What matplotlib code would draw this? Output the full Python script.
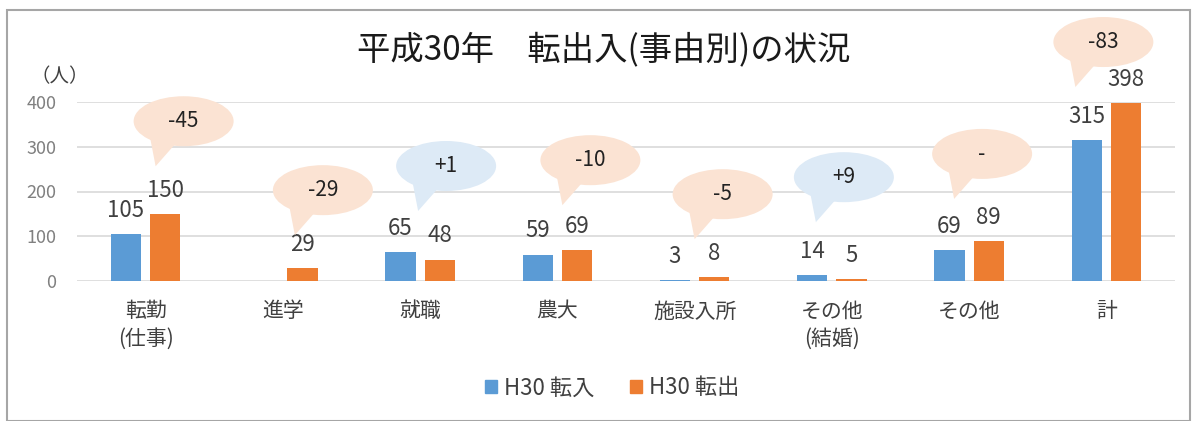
import matplotlib
matplotlib.use("Agg")
import matplotlib.pyplot as plt
from matplotlib.patches import Ellipse, Polygon, Patch, Rectangle
import numpy as np

plt.rcParams['font.family'] = ['Noto Sans CJK JP', 'DejaVu Sans']

# data
categories = ['転勤\n(仕事)', '進学', '就職', '農大', '施設入所', 'その他\n(結婚)', 'その他', '計']
tennyu = [105, None, 65, 59, 3, 14, 69, 315]   # H30 転入
tenshutsu = [150, 29, 48, 69, 8, 5, 89, 398]   # H30 転出
diff_labels = ['-45', '-29', '+1', '-10', '-5', '+9', '-', '-83']

# bubble layout: x offset from category centre (px), centre height (data units)
bubble_dx = [38, 40, 26, 33, 28, 12, 13, -3]
bubble_y = [357, 203, 257, 270, 194, 232, 284, 534]

blue = '#5B9BD5'
orange = '#ED7D31'
peach = '#FBE3D3'
light_blue = '#DDEAF6'

W, H = 1198, 421
fig = plt.figure(figsize=(W / 100, H / 100), dpi=100)
ax_l, ax_r, ax_b, ax_t = 77, 1175, 281, 102
ax = fig.add_axes([ax_l / W, (H - ax_b) / H, (ax_r - ax_l) / W, (ax_b - ax_t) / H])

x = np.arange(len(categories))
v_in = np.array([np.nan if v is None else v for v in tennyu], dtype=float)
v_out = np.array(tenshutsu, dtype=float)
bw = 0.22
off = 0.143
ax.bar(x - off, v_in, bw, color=blue, zorder=3)
ax.bar(x + off, v_out, bw, color=orange, zorder=3)

for xi, v in zip(x - off, v_in):
    if not np.isnan(v):
        ax.annotate(f'{int(v)}', (xi, v), xytext=(0, 17), textcoords='offset points',
                    ha='center', va='center', fontsize=16, color='#404040')
for xi, v in zip(x + off, v_out):
    ax.annotate(f'{int(v)}', (xi, v), xytext=(0, 17), textcoords='offset points',
                ha='center', va='center', fontsize=16, color='#404040')

ax.set_xlim(-0.5, len(categories) - 0.5)
ax.set_ylim(0, 400)
ax.set_yticks(np.arange(0, 401, 100))
ax.yaxis.grid(True, color='#D9D9D9', linewidth=1.2, zorder=0)
ax.set_axisbelow(True)
for s in ax.spines.values():
    s.set_visible(False)
ax.tick_params(axis='y', length=0, labelsize=13, labelcolor='#808080', pad=15)
ax.set_xticks(x)
ax.set_xticklabels(categories, fontsize=15, color='#404040', linespacing=1.3)
ax.tick_params(axis='x', length=0, pad=14)

# speech bubbles
sx = (len(categories)) / (ax_r - ax_l)
sy = 400 / (ax_b - ax_t)
bw_px, bh_px = 100, 50
for i, (lab, dx, yc) in enumerate(zip(diff_labels, bubble_dx, bubble_y)):
    cx = i + dx * sx
    col = light_blue if lab.startswith('+') else peach
    ew, eh = bw_px * sx, bh_px * sy
    tail = Polygon([(cx - 0.34 * ew, yc - 0.28 * eh),
                    (cx - 0.06 * ew, yc - 0.4 * eh),
                    (cx - 0.28 * ew, yc - 0.9 * eh)],
                   closed=True, facecolor=col, edgecolor='none', zorder=4, clip_on=False)
    ax.add_patch(tail)
    ell = Ellipse((cx, yc), ew, eh, facecolor=col, edgecolor='none', zorder=5, clip_on=False)
    ax.add_patch(ell)
    ax.text(cx, yc, lab, ha='center', va='center', fontsize=15, color='#222222', zorder=6)

fig.text(604 / W, 1 - 50 / H, '平成30年　転出入(事由別)の状況', ha='center', va='center',
         fontsize=24, color='#1a1a1a')
fig.text(60 / W, 1 - 77 / H, '（人）', ha='center', va='center', fontsize=14, color='#404040')

handles = [Patch(color=blue, label='H30 転入'), Patch(color=orange, label='H30 転出')]
fig.legend(handles=handles, loc='center', bbox_to_anchor=(612 / W, 1 - 388 / H), ncol=2,
           frameon=False, fontsize=16, handlelength=0.55, handleheight=0.55,
           handletextpad=0.3, columnspacing=1.6, labelcolor='#404040')

fig.patches.append(Rectangle((7 / W, 0), 1183 / W, 1 - 10 / H, transform=fig.transFigure,
                             fill=False, edgecolor='#A6A6A6', linewidth=1.5))

fig.savefig('out.png', dpi=100)
